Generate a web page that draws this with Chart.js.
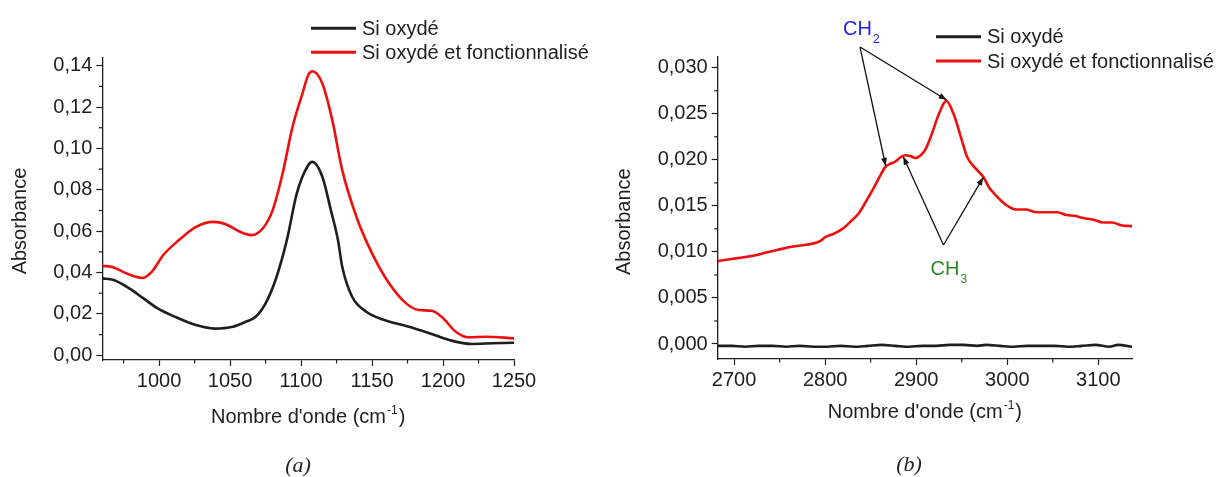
<!DOCTYPE html>
<html lang="fr">
<head>
<meta charset="UTF-8">
<title>Spectres IR - Si oxydé</title>
<script src="https://cdn.jsdelivr.net/npm/chart.js"></script>
<style>
    body { margin: 0; background: #fff; width: 1220px; height: 477px; overflow: hidden; position: relative; }
    .panel { position: absolute; top: 0; width: 610px; height: 477px; }
    .caption { position: absolute; font: italic 22px 'Liberation Serif', 'DejaVu Serif', serif; color: #222; transform: translate(-50%, -50%); }
</style>
</head>
<body>
<div class="panel" style="left:0"><canvas id="chartA" width="610" height="477"></canvas></div>
<div class="panel" style="left:610px"><canvas id="chartB" width="610" height="477"></canvas></div>
<div class="caption" style="left:298px; top:465px">(a)</div>
<div class="caption" style="left:909px; top:464px">(b)</div>

<script>
const INK = '#1e1e1e';
const RED = '#ee0f0f';
const FONT = "'Liberation Sans', Arial, sans-serif";
const seriesNames = ['Si oxydé', 'Si oxydé et fonctionnalisé'];

// --- (a) zone Si-O, 960-1250 cm-1 ---
const waveBlackA = [960, 968, 979, 989, 999, 1012, 1026, 1039, 1052, 1061, 1068, 1075, 1082, 1090, 1097, 1105, 1108, 1115, 1121, 1126, 1129, 1136, 1146, 1157, 1176, 1192, 1206, 1220, 1235, 1250];
const absBlackA  = [0.0372, 0.0364, 0.0324, 0.0275, 0.0227, 0.0184, 0.0146, 0.0129, 0.0138, 0.0162, 0.0186, 0.0251, 0.0364, 0.0557, 0.0783, 0.0919, 0.0935, 0.0863, 0.0702, 0.0557, 0.0428, 0.0283, 0.0211, 0.0174, 0.0138, 0.0103, 0.0071, 0.0055, 0.0058, 0.0061];
const waveRedA = [960, 968, 977, 988, 995, 1003, 1014, 1026, 1038, 1047, 1057, 1065, 1073, 1080, 1087, 1094, 1101, 1105, 1108, 1115, 1122, 1129, 1139, 1150, 1162, 1174, 1183, 1192, 1199, 1209, 1218, 1230, 1250];
const absRedA  = [0.0433, 0.0425, 0.0396, 0.0374, 0.0405, 0.0485, 0.0557, 0.0621, 0.0645, 0.0634, 0.0597, 0.0581, 0.0613, 0.0702, 0.0879, 0.1104, 0.1266, 0.1354, 0.1373, 0.1314, 0.1137, 0.0895, 0.0670, 0.0493, 0.0348, 0.0251, 0.0219, 0.0215, 0.0186, 0.0114, 0.0087, 0.0090, 0.0082];
const xTicksA  = [1000, 1050, 1100, 1150, 1200, 1250];
const xMinorA  = [975, 1025, 1075, 1125, 1175, 1225];
const yTicksA  = [0, 0.02, 0.04, 0.06, 0.08, 0.10, 0.12, 0.14];
const yLabelsA = ['0,00', '0,02', '0,04', '0,06', '0,08', '0,10', '0,12', '0,14'];
const yMinorA  = [0.01, 0.03, 0.05, 0.07, 0.09, 0.11, 0.13];

// --- (b) zone C-H, 2682-3137 cm-1 ---
const waveBlackB = [2682, 2697, 2712, 2727, 2742, 2757, 2772, 2787, 2802, 2817, 2832, 2847, 2862, 2877, 2892, 2907, 2922, 2937, 2952, 2967, 2977, 2992, 3007, 3022, 3037, 3052, 3067, 3082, 3097, 3112, 3122, 3137];
const absBlackB  = [-0.0002, -0.0002, -0.0003, -0.0002, -0.0002, -0.0003, -0.0002, -0.0003, -0.0003, -0.0002, -0.0003, -0.0002, -0.0001, -0.0002, -0.0003, -0.0002, -0.0002, -0.0001, -0.0001, -0.0002, -0.0001, -0.0002, -0.0003, -0.0002, -0.0002, -0.0002, -0.0003, -0.0002, -0.0001, -0.0003, -0.0001, -0.0003];
const waveRedB = [2682, 2695, 2709, 2722, 2734, 2747, 2760, 2773, 2786, 2795, 2800, 2810, 2819, 2828, 2837, 2845, 2852, 2860, 2866, 2872, 2877, 2883, 2888, 2894, 2899, 2905, 2910, 2916, 2925, 2933, 2941, 2949, 2956, 2965, 2974, 2980, 2987, 2995, 3002, 3010, 3020, 3033, 3042, 3055, 3065, 3075, 3082, 3095, 3105, 3115, 3125, 3137];
const absRedB  = [0.0090, 0.0092, 0.0094, 0.0096, 0.0099, 0.0102, 0.0105, 0.0107, 0.0109, 0.0112, 0.0116, 0.0120, 0.0125, 0.0133, 0.0142, 0.0155, 0.0167, 0.0182, 0.0192, 0.0196, 0.0198, 0.0203, 0.0205, 0.0204, 0.0202, 0.0205, 0.0211, 0.0225, 0.0250, 0.0264, 0.0250, 0.0225, 0.0203, 0.0191, 0.0181, 0.0170, 0.0162, 0.0154, 0.0149, 0.0146, 0.0146, 0.0143, 0.0143, 0.0143, 0.0140, 0.0139, 0.0137, 0.0135, 0.0132, 0.0132, 0.0129, 0.0128];
const xTicksB  = [2700, 2800, 2900, 3000, 3100];
const xMinorB  = [2750, 2850, 2950, 3050];
const yTicksB  = [0, 0.005, 0.010, 0.015, 0.020, 0.025, 0.030];
const yLabelsB = ['0,000', '0,005', '0,010', '0,015', '0,020', '0,025', '0,030'];
const yMinorB  = [0.0025, 0.0075, 0.0125, 0.0175, 0.0225, 0.0275];

// annotations (b) : [nombre d'onde, absorbance]
const ch2Label = [2819.6, 0.03356];
const ch2From  = [2838.3, 0.03225];
const ch2To    = [[2866.5, 0.01933], [2933.5, 0.0265]];
const ch3Label = [2915.7, 0.00744];
const ch3From  = [2930, 0.01075];
const ch3To    = [[2885.8, 0.02034], [2973.7, 0.0181]];

const pts = (xs, ys) => xs.map((x, i) => ({ x, y: ys[i] }));

// texte avec indice / exposant
function richText(ctx, x, y, main, small, after, size, shift) {
    ctx.font = size + 'px ' + FONT;
    ctx.fillText(main, x, y);
    let w = ctx.measureText(main).width;
    ctx.font = Math.round(size * 0.62) + 'px ' + FONT;
    ctx.fillText(small, x + w + 1, y + shift);
    w += ctx.measureText(small).width + 2;
    if (after) {
        ctx.font = size + 'px ' + FONT;
        ctx.fillText(after, x + w, y);
        w += ctx.measureText(after).width;
    }
    return w;
}

function arrow(ctx, x0, y0, x1, y1) {
    ctx.beginPath(); ctx.moveTo(x0, y0); ctx.lineTo(x1, y1); ctx.stroke();
    const a = Math.atan2(y1 - y0, x1 - x0), L = 8, h = 3;
    ctx.beginPath();
    ctx.moveTo(x1, y1);
    ctx.lineTo(x1 - L * Math.cos(a) + h * Math.sin(a), y1 - L * Math.sin(a) - h * Math.cos(a));
    ctx.lineTo(x1 - L * Math.cos(a) - h * Math.sin(a), y1 - L * Math.sin(a) + h * Math.cos(a));
    ctx.closePath(); ctx.fill();
}

const extras = {
    id: 'extras',
    afterDraw(chart, args, o) {
        const ctx = chart.ctx, sx = chart.scales.x, sy = chart.scales.y;
        ctx.save();
        ctx.strokeStyle = INK; ctx.fillStyle = INK; ctx.lineWidth = 1.2;
        // petites graduations
        o.minorX.forEach(v => {
            const px = sx.getPixelForValue(v);
            ctx.beginPath(); ctx.moveTo(px, sx.top); ctx.lineTo(px, sx.top + 3.5); ctx.stroke();
        });
        o.minorY.forEach(v => {
            const py = sy.getPixelForValue(v);
            ctx.beginPath(); ctx.moveTo(sy.right - 3.5, py); ctx.lineTo(sy.right, py); ctx.stroke();
        });

        // titres des axes
        ctx.textBaseline = 'alphabetic';
        ctx.font = '20px ' + FONT;
        const t1 = "Nombre d'onde (cm", t2 = '-1', t3 = ')';
        const w1 = ctx.measureText(t1).width, w3 = ctx.measureText(t3).width;
        ctx.font = '12px ' + FONT;
        const w2 = ctx.measureText(t2).width + 2;
        const cx = (chart.chartArea.left + chart.chartArea.right) / 2;
        richText(ctx, cx - (w1 + w2 + w3) / 2, o.xTitleY, t1, t2, t3, 20, -9);

        ctx.save();
        ctx.translate(o.yTitleX, o.yTitleY);
        ctx.rotate(-Math.PI / 2);
        ctx.font = '20px ' + FONT;
        ctx.textAlign = 'center'; ctx.textBaseline = 'middle';
        ctx.fillText('Absorbance', 0, 0);
        ctx.restore();

        // légende
        ctx.textBaseline = 'middle';
        ctx.font = '20px ' + FONT;
        chart.data.datasets.forEach((ds, i) => {
            const ly = o.legend.y + i * o.legend.gap;
            ctx.strokeStyle = ds.borderColor; ctx.lineWidth = 3;
            ctx.beginPath(); ctx.moveTo(o.legend.x, ly); ctx.lineTo(o.legend.x + 45, ly); ctx.stroke();
            ctx.fillStyle = INK;
            ctx.fillText(ds.label, o.legend.x + 51, ly + 1);
        });

        // annotations CH2 / CH3
        if (o.notes) {
            ctx.textBaseline = 'alphabetic';
            ctx.lineWidth = 1.3; ctx.strokeStyle = '#111'; ctx.fillStyle = '#111';
            o.notes.forEach(n => {
                const fx = sx.getPixelForValue(n.from[0]), fy = sy.getPixelForValue(n.from[1]);
                n.to.forEach(t => arrow(ctx, fx, fy, sx.getPixelForValue(t[0]), sy.getPixelForValue(t[1])));
            });
            o.notes.forEach(n => {
                ctx.fillStyle = n.color;
                richText(ctx, sx.getPixelForValue(n.label[0]), sy.getPixelForValue(n.label[1]), 'CH', n.sub, '', 20, 8);
            });
        }
        ctx.restore();
    }
};

function axisOpts(min, max, ticks, labels, tickPad) {
    return {
        type: 'linear', min, max,
        afterBuildTicks: s => { s.ticks = ticks.map(v => ({ value: v })); },
        ticks: {
            autoSkip: false, maxRotation: 0, padding: tickPad, color: INK,
            font: { family: FONT, size: 20 },
            callback: (v, i) => labels[i]
        },
        grid: { drawOnChartArea: false, tickLength: 6, tickColor: INK, tickWidth: 1.2 },
        border: { color: INK, width: 1.3 }
    };
}

function makeChart(id, c) {
    const x = axisOpts(c.xMin, c.xMax, c.xTicks, c.xTicks.map(String), 3);
    x.afterFit = s => { s.height = 477 - c.area.bottom; };
    const y = axisOpts(c.yMin, c.yMax, c.yTicks, c.yLabels, 4);
    y.afterFit = s => { s.width = c.area.left; };
    return new Chart(document.getElementById(id), {
        type: 'scatter',
        data: {
            datasets: [
                { label: seriesNames[0], data: c.black, borderColor: INK, showLine: true, pointRadius: 0, borderWidth: 2.6, cubicInterpolationMode: 'monotone', tension: c.tension },
                { label: seriesNames[1], data: c.red, borderColor: RED, showLine: true, pointRadius: 0, borderWidth: 2.6, cubicInterpolationMode: 'monotone', tension: c.tension }
            ]
        },
        options: {
            responsive: false,
            animation: false,
            events: [],
            layout: { padding: { top: c.area.top, right: 610 - c.area.right, left: 0, bottom: 0 } },
            scales: { x, y },
            plugins: {
                legend: { display: false },
                tooltip: { enabled: false },
                extras: c.extras
            }
        },
        plugins: [extras]
    });
}

makeChart('chartA', {
    area: { left: 102.3, top: 57.3, right: 514, bottom: 360 },
    xMin: 960, xMax: 1250, yMin: -0.00227, yMax: 0.14406,
    xTicks: xTicksA, yTicks: yTicksA, yLabels: yLabelsA, tension: 0.4,
    black: pts(waveBlackA, absBlackA), red: pts(waveRedA, absRedA),
    extras: {
        minorX: xMinorA, minorY: yMinorA,
        xTitleY: 423, yTitleX: 20.5, yTitleY: 221,
        legend: { x: 311, y: 28.3, gap: 24 }
    }
});

makeChart('chartB', {
    area: { left: 107.7, top: 56.7, right: 522, bottom: 359 },
    xMin: 2682, xMax: 3137, yMin: -0.00163, yMax: 0.0312,
    xTicks: xTicksB, yTicks: yTicksB, yLabels: yLabelsB, tension: 0,
    black: pts(waveBlackB, absBlackB), red: pts(waveRedB, absRedB),
    extras: {
        minorX: xMinorB, minorY: yMinorB,
        xTitleY: 418, yTitleX: 14, yTitleY: 221.7,
        legend: { x: 326, y: 36.7, gap: 24.3 },
        notes: [
            { label: ch2Label, from: ch2From, to: ch2To, sub: '2', color: '#2323e8' },
            { label: ch3Label, from: ch3From, to: ch3To, sub: '3', color: '#2a8a2a' }
        ]
    }
});
</script>
</body>
</html>
